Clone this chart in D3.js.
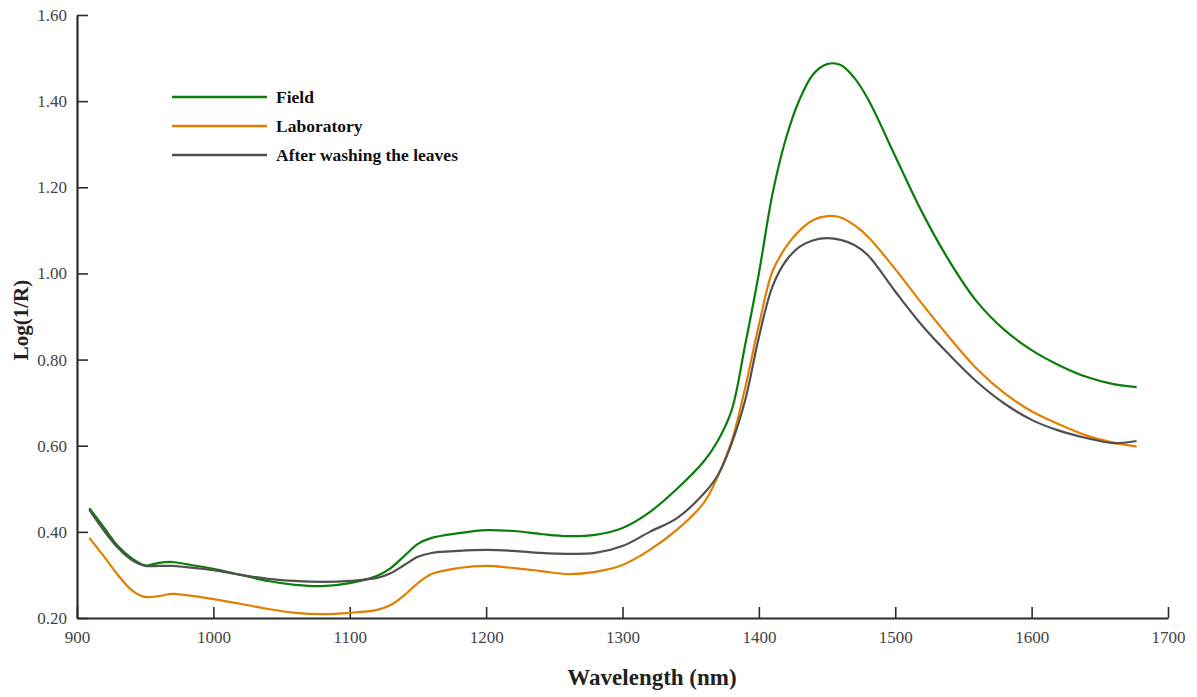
<!DOCTYPE html>
<html>
<head>
<meta charset="utf-8">
<script src="https://cdn.jsdelivr.net/npm/d3@7"></script>
<style>
  body { margin: 0; background: #fff; }
  #chart text { font-family: "Liberation Serif", "Times New Roman", serif; }
</style>
</head>
<body>
<div id="chart"></div>
<script>
// wavelengths (nm) shared by all three spectra
let wavelengths = [909, 920, 930, 940, 950, 960, 970, 980, 1000, 1020, 1040, 1060, 1080, 1100, 1120, 1130, 1140, 1150, 1160, 1180,
  1200, 1220, 1240, 1260, 1280, 1300, 1320, 1340, 1360, 1370, 1380, 1390, 1400, 1410, 1420, 1430, 1440, 1450, 1460, 1470,
  1480, 1500, 1520, 1540, 1560, 1580, 1600, 1620, 1640, 1660, 1677];

let field = [0.455, 0.409, 0.367, 0.339, 0.322, 0.328, 0.330, 0.325, 0.314, 0.300, 0.286, 0.277, 0.274, 0.281, 0.298, 0.316, 0.344, 0.372, 0.386, 0.397,
  0.404, 0.402, 0.395, 0.390, 0.393, 0.409, 0.446, 0.500, 0.565, 0.612, 0.682, 0.835, 1.000, 1.185, 1.315, 1.405, 1.463, 1.486, 1.484, 1.454,
  1.405, 1.272, 1.140, 1.027, 0.934, 0.869, 0.822, 0.787, 0.760, 0.743, 0.736];

let laboratory = [0.386, 0.342, 0.300, 0.265, 0.249, 0.251, 0.256, 0.253, 0.244, 0.233, 0.221, 0.212, 0.209, 0.212, 0.219, 0.230, 0.253, 0.281, 0.302, 0.316,
  0.321, 0.316, 0.309, 0.302, 0.307, 0.323, 0.358, 0.405, 0.469, 0.530, 0.610, 0.735, 0.880, 1.005, 1.062, 1.100, 1.124, 1.133, 1.130, 1.112,
  1.085, 1.010, 0.928, 0.850, 0.778, 0.722, 0.680, 0.650, 0.624, 0.607, 0.598];

let washed = [0.451, 0.402, 0.363, 0.335, 0.321, 0.321, 0.321, 0.318, 0.311, 0.300, 0.291, 0.286, 0.284, 0.286, 0.293, 0.304, 0.323, 0.342, 0.351, 0.356,
  0.358, 0.356, 0.351, 0.349, 0.351, 0.367, 0.400, 0.432, 0.490, 0.532, 0.605, 0.706, 0.852, 0.970, 1.030, 1.062, 1.077, 1.082, 1.078, 1.066,
  1.042, 0.958, 0.878, 0.810, 0.748, 0.698, 0.660, 0.635, 0.618, 0.606, 0.611];

let series_names = ["Field", "Laboratory", "After washing the leaves"];
let series_values = [field, laboratory, washed];
let series_colors = ["#0a7d0a", "#e07f00", "#505050"];

let x_ticks = [900, 1000, 1100, 1200, 1300, 1400, 1500, 1600, 1700];
let y_ticks = [0.20, 0.40, 0.60, 0.80, 1.00, 1.20, 1.40, 1.60];

let width = 1197, height = 697;
let svg = d3.select("#chart").append("svg")
  .attr("width", width)
  .attr("height", height);

let x = d3.scaleLinear().domain([900, 1700]).range([77, 1168]);
let y = d3.scaleLinear().domain([0.20, 1.60]).range([618, 15]);

// axes, ticks pointing inward
let x_axis = svg.append("g")
  .attr("transform", `translate(0,${y(0.20)})`)
  .call(d3.axisBottom(x).tickValues(x_ticks).tickFormat(d3.format("d"))
    .tickSizeInner(-11).tickSizeOuter(0).tickPadding(13));

let y_axis = svg.append("g")
  .attr("transform", `translate(${x(900)},0)`)
  .call(d3.axisLeft(y).tickValues(y_ticks).tickFormat(d3.format(".2f"))
    .tickSizeInner(-11).tickSizeOuter(0).tickPadding(10));

[x_axis, y_axis].forEach(function(ax){
  ax.select(".domain").attr("stroke", "#2b2b2b").attr("stroke-width", 2.2);
  ax.selectAll(".tick line").attr("stroke", "#2b2b2b").attr("stroke-width", 1.6);
  ax.selectAll(".tick text")
    .style("font-size", "17px")
    .attr("fill", "#444");
});

// spectra
let line = d3.line()
  .x(d => x(d[0]))
  .y(d => y(d[1]))
  .curve(d3.curveCatmullRom.alpha(0.5));

series_values.forEach(function(vals, i){
  svg.append("path")
    .datum(wavelengths.map((w, j) => [w, vals[j]]))
    .attr("d", line)
    .attr("fill", "none")
    .attr("stroke", series_colors[i])
    .attr("stroke-width", 2.2);
});

// legend
let legend = svg.append("g")
  .selectAll("g")
  .data(series_names)
  .join("g")
  .attr("transform", (d, i) => `translate(172,${97 + i * 29})`);

legend.append("line")
  .attr("x1", 0).attr("x2", 95)
  .attr("stroke", (d, i) => series_colors[i])
  .attr("stroke-width", 2.6);

legend.append("text")
  .attr("x", 104)
  .attr("dy", "0.35em")
  .style("font-size", "17.5px")
  .style("font-weight", "bold")
  .attr("fill", "#111")
  .text(d => d);

// axis titles
svg.append("text")
  .attr("x", 652)
  .attr("y", 685)
  .attr("text-anchor", "middle")
  .style("font-size", "23px")
  .style("font-weight", "bold")
  .attr("fill", "#222")
  .text("Wavelength (nm)");

svg.append("text")
  .attr("transform", "translate(28,320) rotate(-90)")
  .attr("text-anchor", "middle")
  .style("font-size", "21px")
  .style("font-weight", "bold")
  .attr("fill", "#222")
  .text("Log(1/R)");
</script>
</body>
</html>
